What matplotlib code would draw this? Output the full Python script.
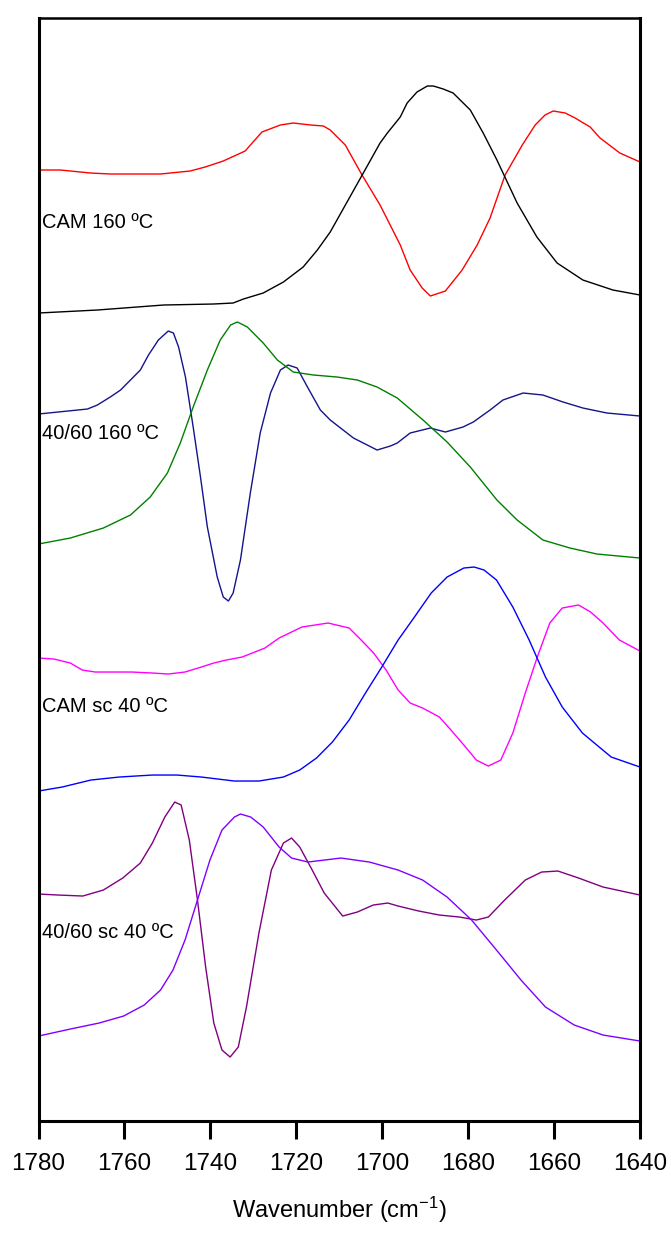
import matplotlib
matplotlib.use("Agg")
import matplotlib.pyplot as plt

plt.rcParams["mathtext.fontset"] = "custom"
plt.rcParams["mathtext.rm"] = "Liberation Sans"
plt.rcParams["mathtext.it"] = "Liberation Sans"

# FTIR carbonyl region, stacked spectra (absorbance + 2nd derivative), arbitrary units

# CAM 160 ºC
cam160_abs_w = [1780, 1766.3, 1750.9, 1739.3, 1734.7, 1732.3, 1727.7, 1723.0, 1718.4, 1715.1,
                1712.1, 1704.4, 1700.5, 1698.8, 1695.8, 1694.2, 1691.9, 1689.5, 1688.1, 1685.8,
                1683.5, 1679.5, 1676.5, 1673.3, 1668.6, 1664.0, 1659.3, 1653.3, 1646.3, 1640]
cam160_abs = [808, 811, 816, 817, 818, 822, 828, 839, 854, 871,
              889, 948, 978, 988, 1004, 1018, 1029, 1035, 1035, 1032,
              1028, 1011, 988, 961, 918, 884, 858, 841, 831, 826]

cam160_d2_w = [1780, 1774.9, 1767.9, 1763.3, 1751.6, 1744.7, 1741.2, 1737.0, 1731.9, 1728.0,
               1723.7, 1720.7, 1716.7, 1713.7, 1712.1, 1708.6, 1704.7, 1700.5, 1695.8, 1693.5,
               1690.7, 1688.8, 1685.3, 1681.4, 1677.9, 1674.9, 1671.4, 1667.4, 1664.4, 1662.1,
               1660.2, 1657.4, 1655.1, 1651.6, 1649.3, 1644.7, 1640]
cam160_d2 = [951, 951, 948, 947, 947, 950, 954, 960, 970, 989,
             996, 998, 996, 995, 991, 976, 946, 916, 876, 851,
             833, 825, 830, 851, 876, 903, 946, 976, 996, 1006,
             1010, 1008, 1003, 994, 983, 968, 959]

# 40/60 160 ºC
b160_abs_w = [1780, 1772.6, 1764.9, 1758.6, 1754.0, 1750.0, 1747.0, 1744.0, 1740.7, 1737.7,
              1735.3, 1733.7, 1731.4, 1727.7, 1724.4, 1720.7, 1716.0, 1710.5, 1705.8, 1701.2,
              1696.5, 1690.5, 1684.9, 1679.5, 1673.3, 1668.6, 1662.6, 1656.3, 1650.0, 1640]
b160_abs = [577, 583, 593, 606, 624, 648, 678, 714, 751, 781,
            796, 799, 794, 778, 761, 749, 746, 744, 741, 734,
            723, 701, 679, 654, 621, 601, 581, 573, 567, 563]

b160_d2_w = [1780, 1768.6, 1766.3, 1763.3, 1760.9, 1758.6, 1756.3, 1754.4, 1752.1, 1749.8,
             1748.6, 1747.4, 1745.8, 1744.0, 1742.3, 1740.7, 1738.4, 1737.0, 1735.8, 1734.7,
             1733.0, 1730.7, 1728.4, 1726.0, 1723.7, 1721.9, 1719.8, 1717.4, 1714.4, 1712.1,
             1709.1, 1706.7, 1704.4, 1701.2, 1698.1, 1696.5, 1693.5, 1688.8, 1685.3, 1681.2,
             1678.8, 1674.9, 1671.9, 1667.2, 1662.6, 1657.9, 1653.3, 1647.7, 1640]
b160_d2 = [707, 712, 716, 724, 731, 741, 751, 766, 781, 790,
           788, 774, 744, 694, 644, 594, 544, 524, 520, 528,
           561, 628, 688, 728, 751, 756, 753, 734, 711, 701,
           691, 683, 678, 671, 675, 678, 688, 693, 689, 694,
           699, 711, 721, 728, 726, 719, 713, 708, 705]

# CAM sc 40 ºC
camsc_abs_w = [1780, 1774.5, 1767.8, 1761.2, 1753.5, 1747.8, 1742.1, 1734.4, 1728.7, 1723.0,
               1719.2, 1715.3, 1711.6, 1707.7, 1703.9, 1700.1, 1696.3, 1692.5, 1688.6, 1684.9,
               1681.0, 1678.6, 1676.3, 1673.4, 1669.6, 1665.8, 1662.0, 1658.1, 1653.4, 1646.7, 1640]
camsc_abs = [330, 334, 341, 344, 346, 346, 344, 340, 340, 344,
             351, 363, 379, 401, 428, 454, 481, 504, 528, 544,
             553, 554, 551, 541, 514, 481, 444, 414, 388, 364, 354]

camsc_d2_w = [1780, 1776.4, 1772.6, 1769.8, 1766.8, 1763.0, 1758.3, 1753.5, 1749.8, 1745.9,
              1742.1, 1739.2, 1736.3, 1732.6, 1727.3, 1724.0, 1718.7, 1712.6, 1707.7, 1704.9,
              1702.0, 1699.1, 1696.3, 1693.5, 1690.6, 1686.7, 1684.0, 1681.0, 1678.1, 1675.3,
              1672.4, 1669.6, 1666.7, 1663.9, 1661.0, 1658.1, 1654.3, 1651.5, 1648.6, 1644.8, 1640]
camsc_d2 = [463, 462, 458, 451, 449, 449, 449, 448, 447, 449,
            454, 458, 461, 464, 473, 483, 494, 498, 493, 481,
            468, 451, 431, 418, 413, 404, 391, 376, 361, 355,
            361, 388, 428, 464, 498, 513, 516, 509, 498, 481, 470]

# 40/60 sc 40 ºC
bsc_abs_w = [1780, 1772.6, 1765.9, 1760.2, 1755.4, 1751.6, 1748.7, 1745.9, 1743.0, 1740.1,
             1737.3, 1734.4, 1733.0, 1730.6, 1727.7, 1724.0, 1721.1, 1717.3, 1709.6, 1703.0,
             1696.3, 1690.6, 1684.9, 1679.2, 1673.4, 1667.7, 1662.0, 1655.3, 1648.6, 1640]
bsc_abs = [85, 92, 98, 105, 116, 131, 151, 181, 221, 261,
           291, 304, 307, 304, 294, 274, 263, 259, 263, 259,
           251, 241, 224, 201, 171, 141, 114, 96, 86, 80]

bsc_d2_w = [1780, 1775.4, 1769.7, 1764.9, 1760.4, 1756.3, 1753.5, 1750.6, 1748.3, 1746.8,
            1744.9, 1743.0, 1741.1, 1739.2, 1737.3, 1735.4, 1733.5, 1731.6, 1728.7, 1725.8,
            1723.0, 1721.1, 1719.2, 1716.3, 1713.5, 1709.2, 1705.8, 1702.1, 1698.7, 1696.3,
            1691.5, 1686.7, 1682.0, 1678.1, 1675.3, 1671.5, 1666.7, 1662.9, 1659.1, 1654.3,
            1648.6, 1640]
bsc_d2 = [227, 226, 225, 231, 243, 258, 278, 304, 319, 316,
          281, 221, 154, 98, 71, 64, 74, 114, 188, 251,
          278, 283, 274, 251, 228, 205, 209, 216, 218, 215,
          210, 206, 204, 201, 204, 221, 241, 249, 250, 243,
          234, 226]

labels = ["CAM 160 ºC", "40/60 160 ºC", "CAM sc 40 ºC", "40/60 sc 40 ºC"]
label_y = [899, 688, 415, 189]

fig = plt.figure(figsize=(6.71, 12.33), dpi=100)
ax = fig.add_axes([0.0574, 0.0908, 0.8964, 0.8946])

lw = 1.0
ax.plot(cam160_d2_w, cam160_d2, color="#ff0000", lw=lw)
ax.plot(cam160_abs_w, cam160_abs, color="black", lw=lw)
ax.plot(b160_d2_w, b160_d2, color="#14148c", lw=lw)
ax.plot(b160_abs_w, b160_abs, color="#008000", lw=lw)
ax.plot(camsc_d2_w, camsc_d2, color="#ff00ff", lw=lw)
ax.plot(camsc_abs_w, camsc_abs, color="#0000ff", lw=lw)
ax.plot(bsc_d2_w, bsc_d2, color="#800080", lw=lw)
ax.plot(bsc_abs_w, bsc_abs, color="#8000ff", lw=lw)

for txt, y in zip(labels, label_y):
    ax.text(1779.3, y, txt, ha="left", va="center", fontsize=14.5,
            family=["Liberation Sans", "DejaVu Sans"])

ax.set_xlim(1780, 1640)
ax.set_ylim(0, 1103)
ax.set_xticks(range(1780, 1639, -20))
ax.set_yticks([])

for sp in ax.spines.values():
    sp.set_linewidth(2.2)
ax.spines["top"].set_linewidth(1.8)

ax.tick_params(axis="x", direction="out", length=13, width=2.2, pad=10)
for lab in ax.get_xticklabels():
    lab.set_family(["Liberation Sans", "DejaVu Sans"])
    lab.set_fontsize(17.5)

ax.set_xlabel(r"Wavenumber (cm$^{\mathrm{-1}}$)", fontsize=17,
              family=["Liberation Sans", "DejaVu Sans"], labelpad=14)

fig.savefig("out.png", dpi=100)
